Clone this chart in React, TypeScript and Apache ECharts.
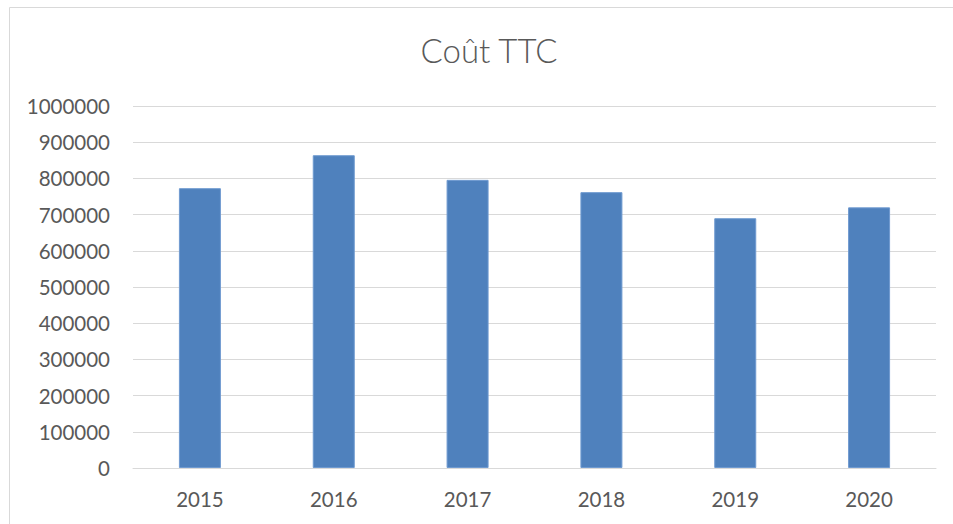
import React, { useEffect, useRef } from "react";
import * as echarts from "echarts";

const categories = ["2015", "2016", "2017", "2018", "2019", "2020"];
const values = [773000, 864000, 796000, 762000, 690000, 720000];
const yTicks = { min: 0, max: 1000000, interval: 100000 };
const title = "Coût TTC";

export default function App() {
  const ref = useRef<HTMLDivElement>(null);
  useEffect(() => {
    if (!ref.current) return;
    const chart = echarts.init(ref.current, null, { renderer: "svg" });
    const font = "Lato, 'Open Sans', sans-serif";
    chart.setOption({
      animation: false,
      backgroundColor: "#ffffff",
      title: {
        text: title,
        left: 484,
        top: 28,
        textAlign: "center",
        textStyle: { fontFamily: font, fontSize: 33, fontWeight: 300, color: "#595959" },
      },
      graphic: [
        {
          type: "rect",
          shape: { x: 9.5, y: 7.5, width: 1000, height: 600 },
          style: { fill: "none", stroke: "#d9d9d9", lineWidth: 1 },
          silent: true,
          z: -1,
        },
      ],
      grid: { left: 133, right: 17, top: 106, bottom: 56 },
      xAxis: {
        type: "category",
        data: categories,
        axisTick: { show: false },
        axisLine: { lineStyle: { color: "#d9d9d9", width: 1 } },
        axisLabel: { color: "#595959", fontFamily: font, fontSize: 20.5, margin: 20 },
      },
      yAxis: {
        type: "value",
        min: yTicks.min,
        max: yTicks.max,
        interval: yTicks.interval,
        axisLine: { show: false },
        axisTick: { show: false },
        splitLine: { lineStyle: { color: "#d9d9d9", width: 1 } },
        axisLabel: {
          color: "#595959",
          fontFamily: font,
          fontSize: 20.5,
          margin: 23,
          formatter: (v: number) => String(v),
        },
      },
      series: [
        {
          type: "bar",
          data: values,
          barWidth: 42,
          itemStyle: { color: "#4f81bd", borderColor: "#6f9ad0", borderWidth: 1 },
        },
      ],
    });
    return () => chart.dispose();
  }, []);
  return (
    <div
      ref={ref}
      style={{ position: "fixed", left: 0, top: 0, width: 953, height: 524 }}
    />
  );
}
